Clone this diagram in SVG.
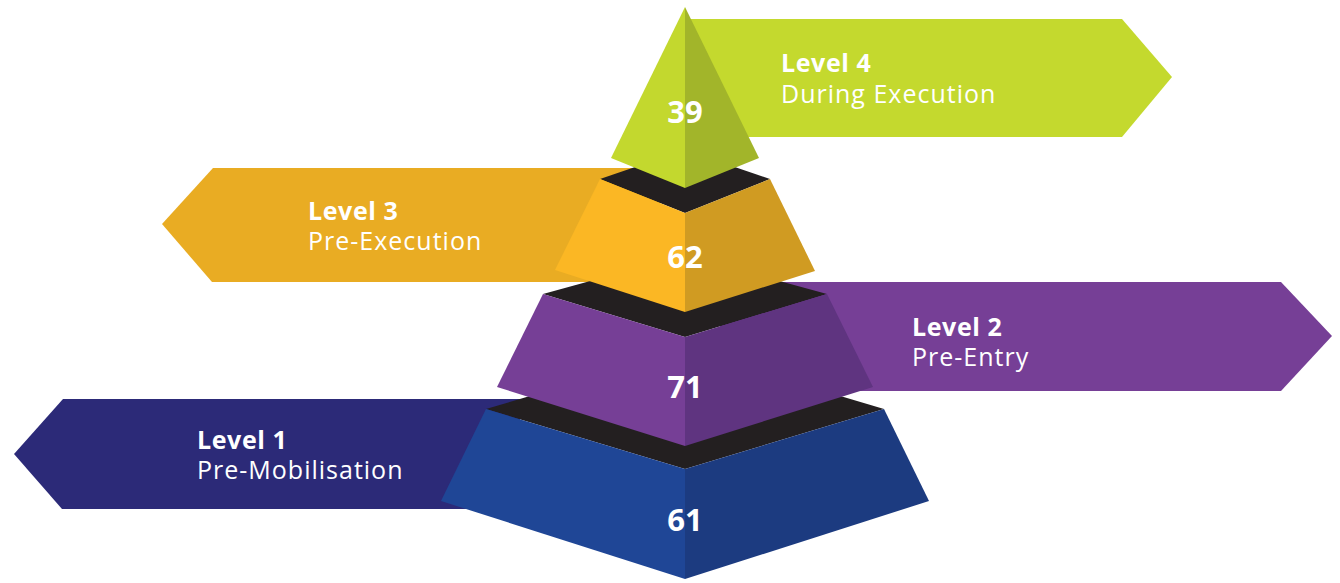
<svg xmlns="http://www.w3.org/2000/svg" width="1340" height="583" viewBox="0 0 1340 583">
<style>
.lbl{font-family:"Open Sans","Liberation Sans",sans-serif;font-size:25px;letter-spacing:1px;fill:#ffffff}
.b{font-weight:700;letter-spacing:0.6px}
.num{font-family:"Open Sans","Liberation Sans",sans-serif;font-size:31px;font-weight:700;fill:#ffffff;text-anchor:middle}
.top{fill:#231f20}
</style>
<rect width="1340" height="583" fill="#ffffff"/>
<g id="arrows">
<g id="arrow-level4"><polygon points="690,19 1122,19 1172,77 1122,137 690,137" fill="#c4d92e"/>
<text class="lbl b" x="781" y="72">Level 4</text><text class="lbl" x="781" y="103">During Execution</text></g>
<g id="arrow-level3"><polygon points="660,168 213,168 162,224 212,282 660,282" fill="#e9ac23"/>
<text class="lbl b" x="308" y="220">Level 3</text><text class="lbl" x="308" y="250">Pre-Execution</text></g>
<g id="arrow-level2"><polygon points="720,282 1281,282 1332,336 1281,391 720,391" fill="#763f96"/>
<text class="lbl b" x="912" y="336">Level 2</text><text class="lbl" x="912" y="366">Pre-Entry</text></g>
<g id="arrow-level1"><polygon points="520,399 63,399 14,454 62,509 520,509" fill="#2c2a78"/>
<text class="lbl b" x="197" y="449">Level 1</text><text class="lbl" x="197" y="479">Pre-Mobilisation</text></g>
</g>
<g id="tier1">
<polygon class="top" points="486,409 685,350 884,409 685,469"/>
<polygon points="486,409 685,469 685,579 441,501" fill="#1f4696"/>
<polygon points="884,409 685,469 685,579 929,501" fill="#1c3b80"/>
<text class="num" x="685" y="531">61</text>
</g>
<g id="tier2">
<polygon class="top" points="543,294 685,255 827,294 685,337"/>
<polygon points="543,294 685,337 685,446 497,387" fill="#763f96"/>
<polygon points="827,294 685,337 685,446 873,387" fill="#5f3480"/>
<text class="num" x="685" y="398">71</text>
</g>
<g id="tier3">
<polygon class="top" points="600,179 685,150 770,179 685,213"/>
<polygon points="600,179 685,213 685,312 555,270" fill="#fbb724"/>
<polygon points="770,179 685,213 685,312 815,271" fill="#d09b22"/>
<text class="num" x="685" y="268">62</text>
</g>
<g id="tier4">
<polygon points="685,7 685,188 611,158" fill="#c3d82e"/>
<polygon points="685,7 685,188 759,158" fill="#a2b52a"/>
<text class="num" x="685" y="123">39</text>
</g>
</svg>
